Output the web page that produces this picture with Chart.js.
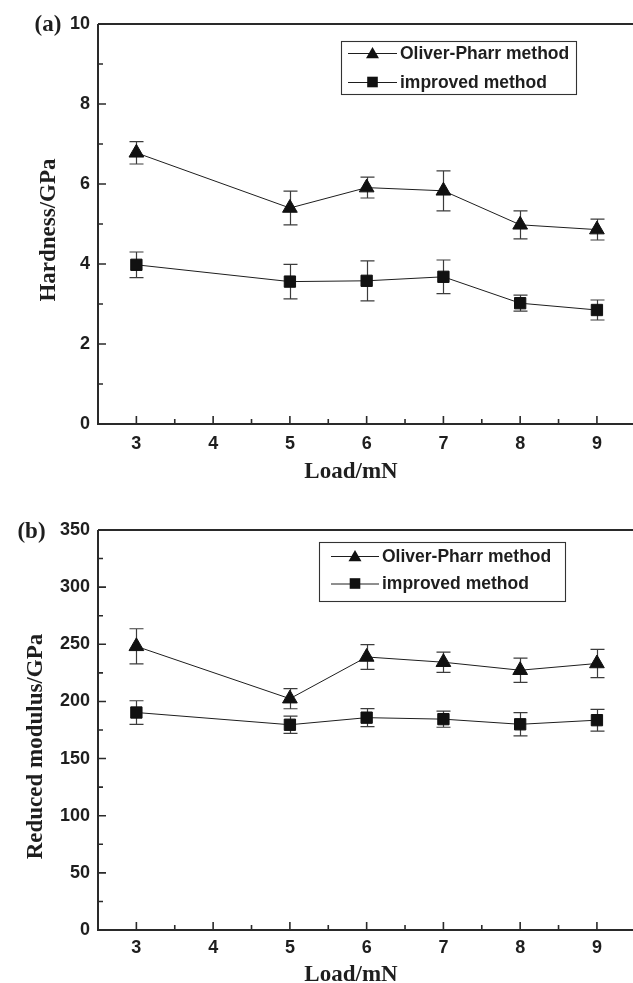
<!DOCTYPE html>
<html><head><meta charset="utf-8">
<script src="https://cdn.jsdelivr.net/npm/chart.js@4.4.1/dist/chart.umd.min.js"></script>
<style>
html,body{margin:0;padding:0;background:#fff;overflow:hidden;}
#wrap{position:relative;width:633px;height:983px;background:#fff;overflow:hidden;}
canvas{position:absolute;left:0;}
#ca{top:0;} #cb{top:490px;}
</style></head><body>
<div id="wrap"><canvas id="ca" width="633" height="490"></canvas><canvas id="cb" width="633" height="493"></canvas></div>
<script>
// ---- data ----
const loads = [3, 5, 6, 7, 8, 9];
const xTicks = [3, 4, 5, 6, 7, 8, 9];
const seriesNames = ['Oliver-Pharr method', 'improved method'];
const hardnessOP     = [6.78, 5.40, 5.91, 5.83, 4.98, 4.86];
const hardnessOPErr  = [0.28, 0.42, 0.26, 0.50, 0.35, 0.26];
const hardnessImp    = [3.98, 3.56, 3.58, 3.68, 3.02, 2.85];
const hardnessImpErr = [0.32, 0.43, 0.50, 0.42, 0.20, 0.25];
const modulusOP      = [248.2, 202.4, 238.9, 234.3, 227.3, 233.2];
const modulusOPErr   = [15.4, 8.8, 10.8, 8.9, 10.6, 12.4];
const modulusImp     = [190.3, 179.6, 185.8, 184.5, 180.0, 183.6];
const modulusImpErr  = [10.3, 7.5, 7.9, 7.1, 10.2, 9.5];
const hardnessTicks = [0, 2, 4, 6, 8, 10];
const modulusTicks = [0, 50, 100, 150, 200, 250, 300, 350];

const SANS = '"Liberation Sans", Arial, sans-serif';
const SERIF = '"Liberation Serif", "Times New Roman", serif';
const INK = '#1e1e1e';

function drawMarker(ctx, style, x, y, r) {
  ctx.beginPath();
  if (style === 'triangle') {
    ctx.moveTo(x, y - r);
    ctx.lineTo(x + r * 0.866, y + r / 2);
    ctx.lineTo(x - r * 0.866, y + r / 2);
    ctx.closePath();
  } else {
    const s = r * Math.SQRT1_2;
    ctx.rect(x - s, y - s, 2 * s, 2 * s);
  }
  ctx.fill();
}

const framePlugin = {
  id: 'frame',
  beforeDatasetsDraw(chart) {
    const ctx = chart.ctx, xs = chart.scales.x, ys = chart.scales.y;
    ctx.save();
    ctx.strokeStyle = '#3c3c3c';
    ctx.lineWidth = 1.2;
    chart.data.datasets.forEach(ds => {
      ds.data.forEach((p, i) => {
        const e = ds.errors[i];
        const px = Math.round(xs.getPixelForValue(p.x)) + 0.5;
        const y1 = ys.getPixelForValue(p.y + e), y2 = ys.getPixelForValue(p.y - e);
        ctx.beginPath();
        ctx.moveTo(px, y1); ctx.lineTo(px, y2);
        ctx.moveTo(px - 7, y1); ctx.lineTo(px + 7, y1);
        ctx.moveTo(px - 7, y2); ctx.lineTo(px + 7, y2);
        ctx.stroke();
      });
    });
    ctx.restore();
  },
  afterDraw(chart, args, o) {
    const ctx = chart.ctx, a = chart.chartArea, xs = chart.scales.x, ys = chart.scales.y;
    ctx.save();
    ctx.strokeStyle = '#2a2a2a';
    ctx.lineWidth = 2;
    // frame: left, bottom, top
    ctx.beginPath();
    ctx.moveTo(a.left, a.top); ctx.lineTo(a.right, a.top);
    ctx.moveTo(a.left, a.top); ctx.lineTo(a.left, a.bottom);
    ctx.lineTo(a.right, a.bottom);
    ctx.stroke();
    // ticks
    ctx.lineWidth = 1.6;
    ctx.beginPath();
    const yt = o.yTicks;
    for (let i = 0; i < yt.length; i++) {
      const py = ys.getPixelForValue(yt[i]);
      ctx.moveTo(a.left, py); ctx.lineTo(a.left + 8, py);
      if (i < yt.length - 1) {
        const pm = ys.getPixelForValue((yt[i] + yt[i + 1]) / 2);
        ctx.moveTo(a.left, pm); ctx.lineTo(a.left + 5, pm);
      }
    }
    for (let i = 0; i < xTicks.length; i++) {
      const px = xs.getPixelForValue(xTicks[i]);
      ctx.moveTo(px, a.bottom); ctx.lineTo(px, a.bottom - 8);
      const pm = xs.getPixelForValue(xTicks[i] + 0.5);
      if (pm < a.right) { ctx.moveTo(pm, a.bottom); ctx.lineTo(pm, a.bottom - 5); }
    }
    ctx.stroke();
    // titles
    ctx.fillStyle = INK;
    ctx.font = 'bold 23px ' + SERIF;
    ctx.textAlign = 'center';
    ctx.textBaseline = 'alphabetic';
    ctx.fillText(o.xTitle, o.xTitleX, o.xTitleY);
    ctx.save();
    ctx.translate(o.yTitleX, o.yTitleY);
    ctx.rotate(-Math.PI / 2);
    ctx.fillText(o.yTitle, 0, 0);
    ctx.restore();
    ctx.textBaseline = 'middle';
    ctx.fillText(o.panel, o.panelX, o.panelY);
    // legend
    const L = o.legend;
    ctx.lineWidth = 1.1;
    ctx.strokeStyle = '#333';
    ctx.strokeRect(L.x + 0.5, L.y + 0.5, L.w, L.h);
    ctx.font = 'bold 17.5px ' + SANS;
    ctx.textAlign = 'left';
    ctx.textBaseline = 'middle';
    chart.data.datasets.forEach((ds, i) => {
      const ry = L.y + L.rows[i];
      ctx.strokeStyle = INK;
      ctx.lineWidth = 1;
      ctx.beginPath();
      ctx.moveTo(L.x + L.l1, ry + 0.5); ctx.lineTo(L.x + L.l2, ry + 0.5);
      ctx.stroke();
      ctx.fillStyle = '#111';
      drawMarker(ctx, ds.pointStyle, L.x + (L.l1 + L.l2) / 2, ds.pointStyle === 'triangle' ? ry + 1.5 : ry, 7.5);
      ctx.fillStyle = INK;
      ctx.fillText(ds.label, L.x + L.tx, ry + 1);
    });
    ctx.restore();
  }
};

function makeDataset(label, vals, errs, style, r) {
  return {
    label: label,
    data: loads.map((x, i) => ({ x: x, y: vals[i] })),
    errors: errs,
    borderColor: INK,
    borderWidth: 1,
    pointStyle: style,
    pointRadius: r,
    pointHoverRadius: r,
    pointBackgroundColor: '#111',
    pointBorderColor: '#111',
    pointBorderWidth: 1,
    showLine: true,
    fill: false,
    tension: 0
  };
}

function makeChart(id, cfg) {
  return new Chart(document.getElementById(id), {
    type: 'scatter',
    data: {
      datasets: [
        makeDataset(seriesNames[0], cfg.op, cfg.opErr, 'triangle', 8.5),
        makeDataset(seriesNames[1], cfg.imp, cfg.impErr, 'rect', 8)
      ]
    },
    options: {
      responsive: false,
      animation: false,
      devicePixelRatio: 1,
      layout: { autoPadding: false, padding: { top: cfg.top, left: 0, right: 0, bottom: 0 } },
      plugins: {
        legend: { display: false },
        tooltip: { enabled: false },
        frame: cfg.frame
      },
      scales: {
        x: {
          type: 'linear', min: 2.5, max: 9.47,
          grid: { display: false, drawTicks: false },
          border: { display: false },
          afterBuildTicks: s => { s.ticks = xTicks.map(v => ({ value: v })); },
          afterFit: s => { s.height = cfg.xh; s.paddingLeft = 0; s.paddingRight = 0; },
          ticks: { autoSkip: false, maxRotation: 0, padding: cfg.xpad, color: INK,
                   font: { family: SANS, size: 18, weight: 'bold' } }
        },
        y: {
          type: 'linear', min: cfg.yTicks[0], max: cfg.yTicks[cfg.yTicks.length - 1],
          grid: { display: false, drawTicks: false },
          border: { display: false },
          afterBuildTicks: s => { s.ticks = cfg.yTicks.map(v => ({ value: v })); },
          afterFit: s => { s.width = 98; s.paddingTop = 0; s.paddingBottom = 0; },
          ticks: { autoSkip: false, padding: 8, color: INK,
                   font: { family: SANS, size: 18, weight: 'bold' } }
        }
      }
    },
    plugins: [framePlugin]
  });
}

makeChart('ca', {
  op: hardnessOP, opErr: hardnessOPErr, imp: hardnessImp, impErr: hardnessImpErr,
  yTicks: hardnessTicks, top: 24, xh: 66, xpad: 9,
  frame: {
    yTicks: hardnessTicks,
    xTitle: 'Load/mN', xTitleX: 351, xTitleY: 478,
    yTitle: 'Hardness/GPa', yTitleX: 55, yTitleY: 230,
    panel: '(a)', panelX: 48, panelY: 25,
    legend: { x: 341, y: 41, w: 235, h: 53, rows: [12, 41], l1: 7, l2: 56, tx: 59 }
  }
});

makeChart('cb', {
  op: modulusOP, opErr: modulusOPErr, imp: modulusImp, impErr: modulusImpErr,
  yTicks: modulusTicks, top: 40, xh: 53, xpad: 7,
  frame: {
    yTicks: modulusTicks,
    xTitle: 'Load/mN', xTitleX: 351, xTitleY: 491,
    yTitle: 'Reduced modulus/GPa', yTitleX: 41.5, yTitleY: 256.5,
    panel: '(b)', panelX: 31.5, panelY: 42,
    legend: { x: 319, y: 52, w: 246, h: 59, rows: [14, 41.5], l1: 12, l2: 60, tx: 63 }
  }
});
</script>
</body></html>
